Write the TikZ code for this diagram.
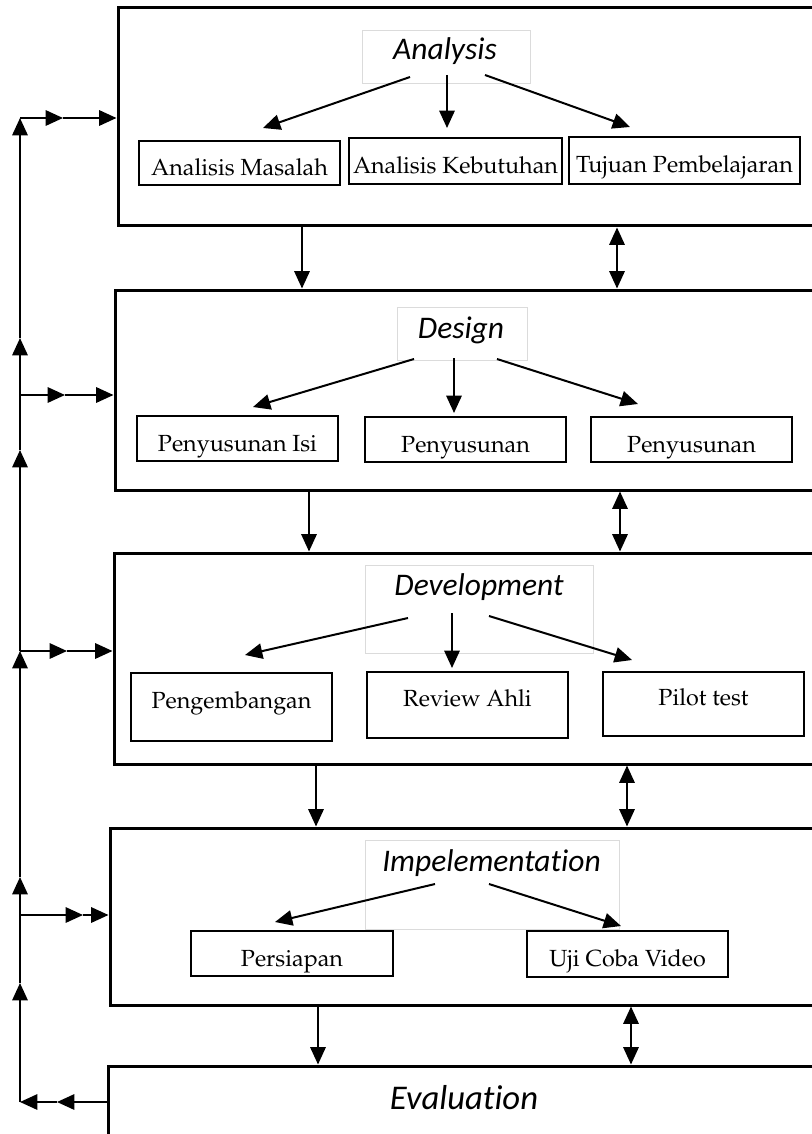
\documentclass[tikz,border=0pt]{standalone}
\usepackage[T1]{fontenc}
\usepackage{fontspec}
\usetikzlibrary{arrows.meta}
\newfontfamily\carlito[Ligatures=NoCommon]{Carlito}
\newcommand\palfont{\fontencoding{T1}\fontfamily{ppl}\selectfont}
\tikzset{
  big/.style={draw, line width=2.25pt, inner sep=0pt},
  ttl/.style={draw=black!14, line width=0.6pt, fill=white, inner sep=0pt},
  ttltext/.style={font=\carlito\itshape\fontsize{23.6pt}{26pt}\selectfont, anchor=base, inner sep=0pt},
  sub/.style={draw, line width=1.1pt, inner sep=0pt, minimum width=150.75pt,
    font=\palfont\fontsize{17.5pt}{20pt}\selectfont, text height=18.75pt, text depth=0pt},
  subhi/.style={sub, text height=12.5pt, text depth=10.25pt},
  arr/.style={line width=1.5pt, -{Triangle[length=13pt,width=11.5pt]}},
  darr/.style={line width=1.5pt, {Triangle[length=13pt,width=11.5pt]}-{Triangle[length=13pt,width=11.5pt]}},
}
\begin{document}
\begin{tikzpicture}[x=0.75pt, y=-0.75pt]
\clip (0,0) rectangle (812,1134);
\fill[white] (0,0) rectangle (812,1134);

% big stage boxes
\node[big, minimum width=534pt, minimum height=163.5pt] (A) at (474,117) {};
\node[big, minimum width=536.25pt, minimum height=150pt] (D) at (472.5,390) {};
\node[big, minimum width=537pt, minimum height=158.25pt] (Dv) at (472,658.5) {};
\node[big, minimum width=540pt, minimum height=132.75pt] (I) at (470,916.5) {};
\node[big, minimum width=541.5pt, minimum height=70.5pt] (E) at (469,1113) {};

% title boxes
\node[ttl, minimum width=126pt, minimum height=39.75pt] (tA) at (446,56.5) {};
\node[ttl, minimum width=97.5pt, minimum height=39.75pt] (tD) at (462,333.5) {};
\node[ttl, minimum width=171pt, minimum height=66pt] (tDv) at (479,609) {};
\node[ttl, minimum width=190.5pt, minimum height=66.75pt] (tI) at (492,884.5) {};

% title texts
\node[ttltext] (tAt) at (445,60) {Analysis};
\node[ttltext] (tDt) at (461,338) {Design};
\node[ttltext] (tDvt) at (479,595) {Development};
\node[ttltext] (tIt) at (491.5,871) {Impelementation};
\node[ttltext, font=\carlito\itshape\fontsize{26pt}{28pt}\selectfont] (tEt) at (464,1109) {Evaluation};

% sub boxes
\node[sub, minimum width=150.75pt, minimum height=33pt] (sA1) at (239.5,163) {Analisis Masalah};
\node[sub, minimum width=159.75pt, minimum height=34.5pt] (sA2) at (455.5,161) {Analisis Kebutuhan};
\node[sub, minimum width=173.25pt, minimum height=35.25pt] (sA3) at (684.5,160.5) {Tujuan Pembelajaran};
\node[sub, minimum height=33.75pt] (sD1) at (237.5,438.5) {Penyusunan Isi};
\node[sub, minimum height=33.75pt] (sD2) at (465.5,439.5) {Penyusunan};
\node[sub, minimum height=33.75pt] (sD3) at (691.5,439.5) {Penyusunan};
\node[subhi, minimum height=51pt] (sDv1) at (231.5,707) {Pengembangan};
\node[subhi, minimum height=49.5pt] (sDv2) at (467.5,705) {Review Ahli};
\node[subhi, minimum height=48pt] (sDv3) at (703.5,704) {Pilot test};
\node[sub, minimum width=151.5pt, minimum height=33.75pt] (sI1) at (292,953.5) {Persiapan};
\node[sub, minimum height=34.5pt] (sI2) at (627.5,954) {Uji Coba Video};

% arrow end points inside stages
\coordinate (a1s) at (410,77);  \coordinate (a1e) at (263,128);
\coordinate (a2s) at (447,75);  \coordinate (a2e) at (447,128);
\coordinate (a3s) at (485,75);  \coordinate (a3e) at (630,127);
\coordinate (d1s) at (414,359); \coordinate (d1e) at (253,407);
\coordinate (d2s) at (454,358); \coordinate (d2e) at (454,413);
\coordinate (d3s) at (497,359); \coordinate (d3e) at (638,404);
\coordinate (v1s) at (408,618); \coordinate (v1e) at (245,655);
\coordinate (v2s) at (452,613); \coordinate (v2e) at (452,668);
\coordinate (v3s) at (489,616); \coordinate (v3e) at (632,660);
\coordinate (i1s) at (435,884); \coordinate (i1e) at (275,922);
\coordinate (i2s) at (489,884); \coordinate (i2e) at (621,926);

\draw[arr] (a1s) -- (a1e);
\draw[arr] (a2s) -- (a2e);
\draw[arr] (a3s) -- (a3e);
\draw[arr] (d1s) -- (d1e);
\draw[arr] (d2s) -- (d2e);
\draw[arr] (d3s) -- (d3e);
\draw[arr] (v1s) -- (v1e);
\draw[arr] (v2s) -- (v2e);
\draw[arr] (v3s) -- (v3e);
\draw[arr] (i1s) -- (i1e);
\draw[arr] (i2s) -- (i2e);

% between stages
\coordinate (xAD) at (302,0);  \coordinate (xAD2) at (617,0);
\coordinate (xDV) at (309,0);  \coordinate (xDV2) at (620,0);
\coordinate (xVI) at (316,0);  \coordinate (xVI2) at (627,0);
\coordinate (xIE) at (318,0);  \coordinate (xIE2) at (631,0);
\draw[arr] (A.south -| xAD) -- (D.north -| xAD);
\draw[darr] (A.south -| xAD2) -- (D.north -| xAD2);
\draw[arr] (D.south -| xDV) -- (Dv.north -| xDV);
\draw[darr] (D.south -| xDV2) -- (Dv.north -| xDV2);
\draw[arr] (Dv.south -| xVI) -- (I.north -| xVI);
\draw[darr] (Dv.south -| xVI2) -- (I.north -| xVI2);
\draw[arr] (I.south -| xIE) -- (E.north -| xIE);
\draw[darr] (I.south -| xIE2) -- (E.north -| xIE2);

% feedback loop on the left
\coordinate (v0) at (20,1102);
\coordinate (vb1) at (20,983);
\coordinate (vb2) at (20,877);
\coordinate (vb3) at (20,651);
\coordinate (vb4) at (20,450);
\coordinate (vb5) at (20,338);
\coordinate (vb6) at (20,118);
\coordinate (hD) at (20,395);
\coordinate (hI) at (20,915);
\coordinate (mA) at (63,118);
\coordinate (mD) at (65,395);
\coordinate (mDv) at (67,651);
\coordinate (mI) at (83,915);
\coordinate (mE) at (57,1102);

\draw[arr] (E.west |- v0) -- (mE);
\draw[arr] (mE) -- (v0);
\draw[arr] (v0) -- (vb1);
\draw[arr] (vb1) -- (vb2);
\draw[arr] (vb2) -- (vb3);
\draw[arr] (vb3) -- (vb4);
\draw[arr] (vb4) -- (vb5);
\draw[arr] (vb5) -- (vb6);

\draw[arr] (vb6) -- (mA);
\draw[arr] (mA) -- (mA -| A.west);
\draw[arr] (hD) -- (mD);
\draw[arr] (mD) -- (mD -| D.west);
\draw[arr] (vb3) -- (mDv);
\draw[arr] (mDv) -- (mDv -| Dv.west);
\draw[arr] (hI) -- (mI);
\draw[arr] (mI) -- (mI -| I.west);
\end{tikzpicture}
\end{document}
